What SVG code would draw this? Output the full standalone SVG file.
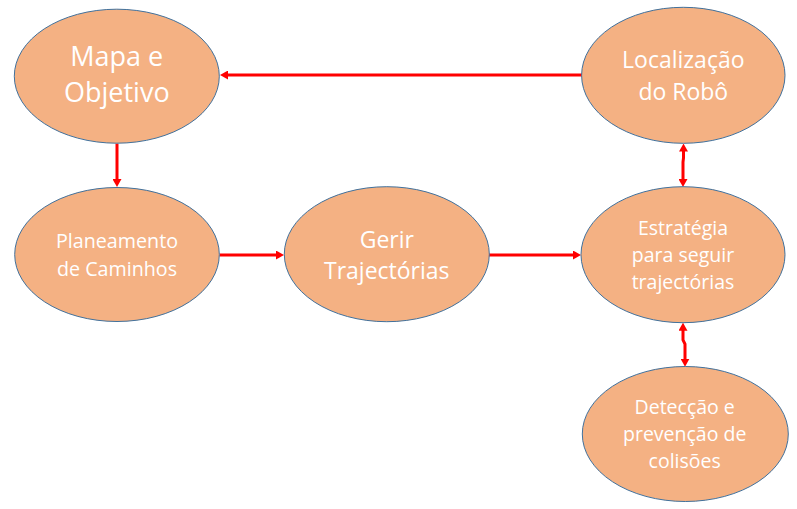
<svg xmlns="http://www.w3.org/2000/svg" width="797" height="509" viewBox="0 0 797 509">
<style>
.n ellipse{fill:#F4B183;stroke:#41719C;stroke-width:1}
.n text{fill:#FFFFFF;font-family:"Open Sans","Noto Sans",sans-serif;text-anchor:middle}
.c path{fill:none;stroke:#FF0000;stroke-width:3}
</style>
<defs>
<marker id="ah" viewBox="0 0 8 9" markerWidth="8" markerHeight="9" refX="2" refY="4.5" orient="auto-start-reverse" markerUnits="userSpaceOnUse">
<path d="M0,0 L8,4.5 L0,9 z" fill="#FF0000"/>
</marker>
</defs>
<rect width="797" height="509" fill="#FFFFFF"/>
<g class="c" id="connectors">
<path d="M582,75 L226,75" marker-end="url(#ah)"/>
<path d="M117,143.5 L117,181" marker-end="url(#ah)"/>
<path d="M219.5,255 L278,255" marker-end="url(#ah)"/>
<path d="M489,255 L575,255" marker-end="url(#ah)"/>
<path d="M683.5,149.5 L683.5,158 L683,162 L683,181" marker-start="url(#ah)" marker-end="url(#ah)"/>
<path d="M683,328.7 L683,340 L685,344 L685,360.7" marker-start="url(#ah)" marker-end="url(#ah)"/>
</g>
<g class="n" id="mapa">
<ellipse cx="116.8" cy="76.2" rx="102.5" ry="67"/>
<text font-size="27"><tspan x="116.8" y="65.7">Mapa e</tspan><tspan x="116.8" y="101.7">Objetivo</tspan></text>
</g>
<g class="n" id="localizacao">
<ellipse cx="683.3" cy="75.3" rx="101.7" ry="68"/>
<text font-size="23"><tspan x="683.3" y="68.3">Localização</tspan><tspan x="683.3" y="100">do Robô</tspan></text>
</g>
<g class="n" id="planeamento">
<ellipse cx="117" cy="254.5" rx="102.3" ry="67"/>
<text font-size="19.7"><tspan x="117" y="248.3">Planeamento</tspan><tspan x="117" y="275.7">de Caminhos</tspan></text>
</g>
<g class="n" id="gerir">
<ellipse cx="386.8" cy="254.2" rx="102.5" ry="67.5"/>
<text font-size="23"><tspan x="386.8" y="247.7">Gerir</tspan><tspan x="386.8" y="279.3">Trajectórias</tspan></text>
</g>
<g class="n" id="estrategia">
<ellipse cx="683" cy="254.7" rx="102" ry="68"/>
<text font-size="19.5"><tspan x="683" y="235">Estratégia</tspan><tspan x="683" y="261.7">para seguir</tspan><tspan x="683" y="289.3">trajectórias</tspan></text>
</g>
<g class="n" id="deteccao">
<ellipse cx="685.3" cy="434" rx="103" ry="67.5"/>
<text font-size="19.5"><tspan x="684.7" y="414.3">Detecção e</tspan><tspan x="684.7" y="441">prevenção de</tspan><tspan x="684.7" y="468.3">colisões</tspan></text>
</g>
</svg>
